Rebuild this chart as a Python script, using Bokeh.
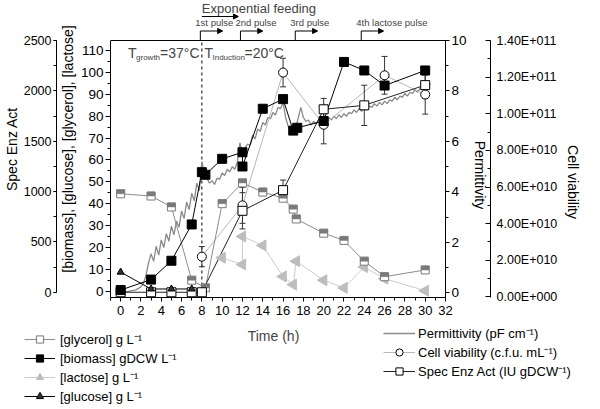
import math
from bokeh.plotting import figure
from bokeh.layouts import column
from bokeh.models import (Range1d, LinearAxis, SingleIntervalTicker, Span, Label,
                          Arrow, NormalHead, Legend, LegendItem, CustomJSTickFormatter)
from bokeh.core.properties import value
from bokeh.embed import file_html
from bokeh.resources import INLINE

FONT = "Liberation Sans"
NAN = float("nan")
EM = "\u2003"
BLANK = "\u2800"   # blank (non-whitespace) glyph so the em-space padding is kept

# ---------------- data ----------------
biomass_t = [0, 3, 5, 7, 8, 8.35, 10, 12, 12, 14, 16, 17, 17.4, 20, 22, 24, 26, 30]
biomass = [0.5, 5.3, 13.9, 30.5, 54.4, 53.2, 60.5, 63.5, 57.0, 83.4, 87.8, 73.4, 74.7,
           77.8, 104.8, 100.9, 94.0, 100.9]

glycerol_t = [0, 3, 5, 7, 8.35, 10, 12, 14, 16, 17, 17.3, 20, 22, 24, 26, 30]
glycerol = [44.5, 43.5, 38.5, 5.0, 1.5, 40.0, 49.5, 45.3, 42.5, 37.5, 33.0, 26.5, 23.2,
            13.7, 6.6, 9.7]

lactose_t = [10, 12, 12, 14, 16, 17, 17.3, 20, 22, 24, 26, 30]
lactose = [15.3, 12.2, 25.0, 20.9, 6.7, 3.0, 13.7, 5.0, 1.5, 11.0, 5.7, 0.2]

glucose_t = [0, 3, 5, 7]
glucose = [8.7, 1.0, 1.0, 1.0]

viab_t = [8, 12, 16, 20, 26, 30]
viab = [2.2e10, 5.0e10, 1.225e11, 9.4e10, 1.21e11, 1.105e11]
viab_err = [5.5e9, 9.8e9, 7.8e9, 1.04e10, 1.03e10, 1.07e10]

enz_t = [0, 3, 5, 7, 8, 12, 16, 20, 24, 30]
enz = [0, 0, 0, 0, 0, 809, 1014, 1817, 1856, 2057]
enz_err = [0, 0, 0, 0, 0, 180, 100, 108, 200, 130]

perm_t = [0.0, 0.25, 0.5, 0.75, 1.0, 1.25, 1.5, 1.75, 2.0, 2.25, 2.5, 2.75,
          3.0, 3.25, 3.5, 3.75, 4.0, 4.25, 4.5, 4.75, 5.0, 5.25, 5.5, 5.75,
          6.0, 6.25, 6.5, 6.75, 7.0, 7.25, 7.5, 7.75, 8.0, 8.25, 8.5, 8.75,
          9.0, 9.25, 9.5, 9.75, 10.0, 10.25, 10.5, 10.75, 11.0, 11.25, 11.5, 11.75,
          12.0, 12.25, 12.5, 12.75, 13.0, 13.25, 13.5, 13.75, 14.0, 14.25, 14.5, 14.75,
          15.0, 15.25, 15.5, 15.75, 16.0, 16.25, 16.5, 16.75, 17.0, 17.25, 17.5, 17.75,
          18.0, 18.25, 18.5, 18.75, 19.0, 19.25, 19.5, 19.75, 20.0, 20.25, 20.5, 20.75,
          21.0, 21.25, 21.5, 21.75, 22.0, 22.25, 22.5, 22.75, 23.0, 23.25, 23.5, 23.75,
          24.0, 24.25, 24.5, 24.75, 25.0, 25.25, 25.5, 25.75, 26.0, 26.25, 26.5, 26.75,
          27.0, 27.25, 27.5, 27.75, 28.0, 28.25, 28.5, 28.75, 29.0, 29.25, 29.5, 29.75,
          30.0, 30.25, 30.5]
perm = [0.02, 0.04, 0.03, 0.06, 0.08, 0.10, 0.12, 0.18, 0.25, 0.38, 0.70, 1.20,
        1.55, 1.25, 1.85, 1.50, 2.10, 1.80, 2.35, 2.05, 2.65, 2.30, 2.85, 2.60,
        3.25, 2.95, 3.60, 3.30, 3.95, 3.65, 4.35, 4.05, 5.20, 4.75, 4.55, 4.35,
        4.45, 4.30, 4.55, 4.50, 4.75, 4.65, 4.90, 4.80, 5.00, 4.90, 5.20, 5.95,
        5.50, 5.75, 5.90, 5.85, 6.25, 6.10, 6.50, 6.40, 6.75, 6.65, 6.95, 6.90,
        7.15, 7.05, 7.35, 7.30, 7.55, 6.95, 6.60, 6.45, 6.65, 6.55, 6.95, 7.35,
        6.95, 6.80, 6.85, 6.65, 6.80, 6.70, 6.85, 6.75, 6.90, 6.80, 6.95, 6.85,
        7.00, 6.90, 7.05, 6.95, 7.10, 7.00, 7.15, 7.10, 7.25, 7.15, 7.30, 7.20,
        7.35, 7.25, 7.40, 7.35, 7.50, 7.40, 7.55, 7.45, 7.60, 7.50, 7.65, 7.60,
        7.75, 7.65, 7.80, 7.75, 7.90, 7.80, 7.95, 7.90, 8.05, 7.95, 8.10, 8.05,
        8.20, 8.10, 8.30]

pulse_t = [7.85, 11.8, 17.2, 23.7]
pulse_labels = ["1st pulse", "2nd pulse", "3rd pulse", "4th lactose pulse"]
feed_start, feed_end = 8.0, 11.6
induction_t = 8.0

# ---------------- layout constants ----------------
W = 584
BL, BR = 101, 139
FRAME_PX = 297          # plot frame height (includes the annotation strip on top)
BOX_TOP_PX = 40         # where the drawn plot box starts inside the frame
BOX_PX = FRAME_PX - BOX_TOP_PX
MAIN_BOT = 24
MAIN_H = FRAME_PX + MAIN_BOT
TOTAL_H = 405
LEG_H = TOTAL_H - MAIN_H
X0, X1 = -1.0, 32.0
Y0, Y1 = -2.9, 114.6
UNIT_PER_PX = (Y1 - Y0) / BOX_PX
Y_TOP = Y1 + BOX_TOP_PX * UNIT_PER_PX


def ext(lo, hi):
    return Range1d(lo, hi + (hi - lo) * BOX_TOP_PX / BOX_PX)


def y_at(py):
    return Y_TOP - py * UNIT_PER_PX


# ---------------- main plot ----------------
p = figure(width=W, height=MAIN_H, output_backend="svg", toolbar_location=None,
           x_range=Range1d(X0, X1), y_range=Range1d(Y0, Y_TOP),
           min_border_left=BL, min_border_right=BR, min_border_top=0,
           min_border_bottom=MAIN_BOT)
ENZ_LO, ENZ_HI = -52, 2500
PERM_LO, PERM_HI = -0.18, 10
VIAB_LO, VIAB_HI = -3e8, 1.4e11
p.extra_y_ranges = {"enz": ext(ENZ_LO, ENZ_HI), "perm": ext(PERM_LO, PERM_HI),
                    "viab": ext(VIAB_LO, VIAB_HI)}
p.grid.visible = False
p.outline_line_color = None
p.background_fill_color = "white"
p.border_fill_color = "white"


def style(ax, label, tick_size, tick_out=5, tick_in=0, standoff=2, label_standoff=3):
    ax.axis_label = label
    ax.axis_label_text_font = FONT
    ax.axis_label_text_font_size = "14px"
    ax.axis_label_text_font_style = "normal"
    ax.axis_label_text_color = "black"
    ax.axis_label_standoff = label_standoff
    ax.major_label_text_font = FONT
    ax.major_label_text_font_size = tick_size
    ax.major_label_text_color = "black"
    ax.major_label_standoff = standoff
    ax.axis_line_color = "black"
    ax.major_tick_line_color = "black"
    ax.minor_tick_line_color = "black"
    ax.major_tick_out = tick_out
    ax.major_tick_in = tick_in
    ax.minor_tick_out = 3 if tick_out else 0
    ax.minor_tick_in = 3 if tick_in else 0


xa = p.xaxis[0]
xa.ticker = SingleIntervalTicker(interval=2, num_minor_ticks=2)
style(xa, None, "13px", tick_out=4, standoff=4)

ya = p.yaxis[0]
ya.ticker = SingleIntervalTicker(interval=10, num_minor_ticks=2)
ya.bounds = (Y0, Y1)
style(ya, "[biomass], [glucose], [glycerol], [lactose]", "13.5px",
      tick_out=5, standoff=2, label_standoff=2)

enz_ax = LinearAxis(y_range_name="enz", bounds=(0, ENZ_HI),
                    ticker=SingleIntervalTicker(interval=500, num_minor_ticks=2))
style(enz_ax, "Spec Enz Act", "12.5px", tick_out=3, standoff=2, label_standoff=1)
p.add_layout(enz_ax, "left")

# right-hand titles are centred on the whole frame (incl. the annotation strip);
# leading blank padding moves the visible words down onto the plot box
perm_ax = LinearAxis(y_range_name="perm", bounds=(PERM_LO, PERM_HI),
                     ticker=SingleIntervalTicker(interval=2, num_minor_ticks=2))
style(perm_ax, BLANK + EM * 3 + "Permittivity", "13.5px", tick_out=4, standoff=2,
      label_standoff=2)
p.add_layout(perm_ax, "right")

viab_ax = LinearAxis(y_range_name="viab", bounds=(VIAB_LO, VIAB_HI),
                     ticker=SingleIntervalTicker(interval=2e10, num_minor_ticks=2))
viab_ax.formatter = CustomJSTickFormatter(code="""
    if (Math.abs(tick) < 1) return "0.00E+000";
    const e = Math.floor(Math.log10(Math.abs(tick)) + 1e-9);
    const m = tick / Math.pow(10, e);
    return m.toFixed(2) + "E+" + String(e).padStart(3, "0");
""")
style(viab_ax, BLANK + EM * 4 + "Cell viability", "12.5px", tick_out=0, tick_in=5,
      standoff=6, label_standoff=5)
p.add_layout(viab_ax, "right")

# top edge of the plot box
p.add_layout(Span(location=Y1, dimension="width", line_color="black", line_width=1))

STY = {
    "perm": dict(line_color="#8a8a8a", line_width=1.3),
    "viab_line": dict(line_color="#b8b8b8", line_width=1),
    "gl_line": dict(line_color="#8c8c8c", line_width=1),
    "lac_line": dict(line_color="#cccccc", line_width=1),
    "enz_line": dict(line_color="#222222", line_width=1),
    "bio_line": dict(line_color="black", line_width=1),
    "glu_line": dict(line_color="black", line_width=1),
    "lac_sc": dict(marker="triangle", angle=math.pi / 2, size=11, fill_color="#bdbdbd",
                   line_color="#bdbdbd"),
    "gl_sc": dict(marker="square", size=8, fill_color="white", line_color="#7a7a7a",
                  line_width=1),
    "viab_sc": dict(marker="circle", size=9, fill_color="white", line_color="black",
                    line_width=1),
    "enz_sc": dict(marker="square", size=9, fill_color="white", line_color="black",
                   line_width=1),
    "bio_sc": dict(marker="square", size=9, fill_color="black", line_color="black"),
    "glu_sc": dict(marker="triangle", size=7, fill_color="#333333", line_color="black"),
}

# induction line (dashed), inside the box only
p.segment(x0=[induction_t], y0=[Y0], x1=[induction_t], y1=[Y1], line_color="black",
          line_width=1, line_dash="3 3")

p.line(perm_t, perm, y_range_name="perm", **STY["perm"])
p.line(viab_t, viab, y_range_name="viab", **STY["viab_line"])
p.line(glycerol_t, glycerol, **STY["gl_line"])
p.line(lactose_t, lactose, **STY["lac_line"])
p.line(enz_t, enz, y_range_name="enz", **STY["enz_line"])
p.line(biomass_t, biomass, **STY["bio_line"])
p.line(glucose_t, glucose, **STY["glu_line"])


def error_bars(ts, vals, errs, rng):
    xs = [t for t, e in zip(ts, errs) if e > 0]
    lo = [v - e for v, e in zip(vals, errs) if e > 0]
    hi = [v + e for v, e in zip(vals, errs) if e > 0]
    p.segment(x0=xs, y0=lo, x1=xs, y1=hi, y_range_name=rng, line_color="#333333",
              line_width=1)
    p.scatter(xs + xs, lo + hi, marker="dash", size=6, y_range_name=rng,
              line_color="#333333", line_width=1)


error_bars(viab_t, viab, viab_err, "viab")
error_bars(enz_t, enz, enz_err, "enz")

p.scatter(lactose_t, lactose, **STY["lac_sc"])
p.scatter(glycerol_t, glycerol, **STY["gl_sc"])
p.rect(glycerol_t, [v + 2 * UNIT_PER_PX for v in glycerol], width=8, height=4,
       width_units="screen", height_units="screen", fill_color="#7a7a7a",
       line_color="#7a7a7a", line_width=0.5)
p.scatter(viab_t, viab, y_range_name="viab", **STY["viab_sc"])
p.scatter(enz_t, enz, y_range_name="enz", **STY["enz_sc"])
p.scatter(biomass_t, biomass, **STY["bio_sc"])
p.scatter(glucose_t, glucose, **STY["glu_sc"])


def temp_label(x, sub, rest, sub_w):
    yb = y_at(52)
    p.add_layout(Label(x=x, y=yb, text="T", text_font=FONT, text_font_size="14px",
                       text_baseline="alphabetic"))
    p.add_layout(Label(x=x, y=yb, x_offset=8, y_offset=-5, text=sub, text_font=FONT,
                       text_font_size="8px", text_baseline="alphabetic"))
    p.add_layout(Label(x=x, y=yb, x_offset=8 + sub_w, text=rest, text_font=FONT,
                       text_font_size="14px", text_baseline="alphabetic"))


temp_label(0.73, "growth", "=37°C", 24)
temp_label(8.26, "Induction", "=20°C", 32)

# feeding annotations (top strip of the frame)
p.add_layout(Label(x=feed_start, y=y_at(7.5), text="Exponential feeding",
                   text_font=FONT, text_font_size="13px", text_baseline="alphabetic"))
p.add_layout(Arrow(x_start=feed_start, y_start=y_at(16), x_end=feed_end,
                   y_end=y_at(16), line_color="black", line_width=1,
                   end=NormalHead(size=5, fill_color="black", line_color="black")))
STEP_Y = y_at(30.5)
p.segment(x0=pulse_t, y0=[Y1] * len(pulse_t), x1=pulse_t, y1=[STEP_Y] * len(pulse_t),
          line_color="black", line_width=1)
for t, lab in zip(pulse_t, pulse_labels):
    p.add_layout(Label(x=t, y=y_at(22), x_offset=-5, text=lab, text_font=FONT,
                       text_font_size="9.5px", text_baseline="alphabetic"))
    p.add_layout(Arrow(x_start=t, y_start=STEP_Y, x_end=t + 2.2, y_end=STEP_Y,
                       line_color="black", line_width=1,
                       end=NormalHead(size=5, fill_color="black", line_color="black")))

# ---------------- x title + legends below ----------------
leg = figure(width=W, height=LEG_H, output_backend="svg", toolbar_location=None,
             x_range=Range1d(0, W), y_range=Range1d(0, LEG_H), min_border=0,
             x_axis_type=None, y_axis_type=None)
try:
    leg.frame_align = False
except AttributeError:
    pass
leg.grid.visible = False
leg.outline_line_color = None
leg.background_fill_color = "white"
leg.border_fill_color = "white"

leg.add_layout(Label(x=273, y=LEG_H - 14, text="Time (h)", text_font=FONT,
                     text_font_size="14px", text_align="center",
                     text_baseline="alphabetic"))


def dummy(kind, key):
    if kind == "line":
        return leg.line([NAN], [NAN], **STY[key])
    return leg.scatter([NAN], [NAN], **STY[key])


ROW, GAP = 18, 1


def make_legend(items, loc, standoff, gw):
    lg = Legend(items=[LegendItem(label=value(l), renderers=r) for l, r in items],
                location=loc, orientation="vertical")
    lg.label_text_font = FONT
    lg.label_text_font_size = "13px"
    lg.label_text_color = "black"
    lg.glyph_width = gw
    lg.glyph_height = ROW
    lg.label_height = ROW
    lg.spacing = GAP
    lg.padding = 0
    lg.margin = 0
    lg.label_standoff = standoff
    lg.border_line_color = None
    lg.background_fill_alpha = 0
    leg.add_layout(lg, "center")


make_legend([("[glycerol] g L⁻¹", [dummy("line", "gl_line"), dummy("sc", "gl_sc")]),
             ("[biomass] gDCW L⁻¹", [dummy("line", "bio_line"), dummy("sc", "bio_sc")]),
             ("[lactose] g L⁻¹", [dummy("line", "lac_line"), dummy("sc", "lac_sc")]),
             ("[glucose] g L⁻¹", [dummy("line", "glu_line"), dummy("sc", "glu_sc")])],
            (24, 0), 5, 31)
make_legend([("Permittivity (pF cm⁻¹)", [dummy("line", "perm")]),
             ("Cell viability (c.f.u. mL⁻¹)", [dummy("line", "viab_line"),
                                              dummy("sc", "viab_sc")]),
             ("Spec Enz Act (IU gDCW⁻¹)", [dummy("line", "enz_line"),
                                          dummy("sc", "enz_sc")])],
            (383, LEG_H - 3 - 3 * ROW - 2 * GAP), 3, 32)

layout = column(p, leg, spacing=0)
open("out.html", "w").write(file_html(layout, INLINE))
